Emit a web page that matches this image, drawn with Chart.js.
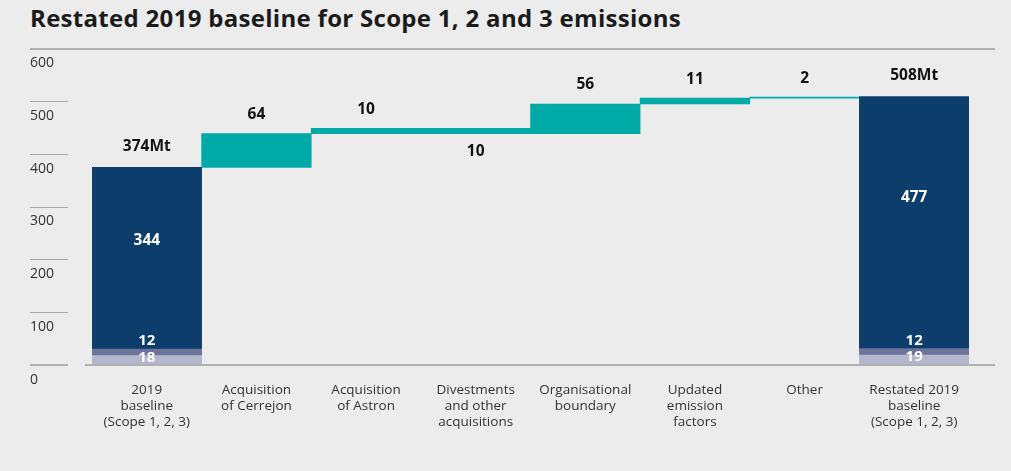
<!DOCTYPE html>
<html>
<head>
<meta charset="utf-8">
<script src="https://cdn.jsdelivr.net/npm/chart.js@4.4.1/dist/chart.umd.min.js"></script>
<style>
  html,body{margin:0;padding:0;background:#ececec;}
  #wrap{position:relative;width:1011px;height:471px;overflow:hidden;background:#ececec;}
  #title{position:absolute;left:30px;top:1px;font-family:"Open Sans",sans-serif;font-weight:700;font-size:24px;color:#1b1b1b;letter-spacing:0.3px;white-space:nowrap;}
  canvas{position:absolute;left:0;top:0;}
</style>
</head>
<body>
<div id="wrap">
  <div id="title">Restated 2019 baseline for Scope 1, 2 and 3 emissions</div>
  <canvas id="c" width="1011" height="471"></canvas>
</div>
<script>
// ---- data ----
const categories = [
  ["2019", "baseline", "(Scope 1, 2, 3)"],
  ["Acquisition", "of Cerrejon"],
  ["Acquisition", "of Astron"],
  ["Divestments", "and other", "acquisitions"],
  ["Organisational", "boundary"],
  ["Updated", "emission", "factors"],
  ["Other"],
  ["Restated 2019", "baseline", "(Scope 1, 2, 3)"]
];
const baselineParts = [18, 12, 344];   // light, medium, dark
const restatedParts = [19, 12, 477];
const changes = [64, 10, -10, 56, 11, 2];
const baselineTotal = 374;
const restatedTotal = 508;
const yTicks = [0, 100, 200, 300, 400, 500, 600];

// ---- build datasets ----
const n = categories.length;
function partRange(parts, k) {
  let lo = 0; for (let i = 0; i < k; i++) lo += parts[i];
  return [lo, lo + parts[k]];
}
const light = new Array(n).fill(null), medium = new Array(n).fill(null), dark = new Array(n).fill(null);
light[0] = partRange(baselineParts, 0); medium[0] = partRange(baselineParts, 1); dark[0] = partRange(baselineParts, 2);
light[n-1] = partRange(restatedParts, 0); medium[n-1] = partRange(restatedParts, 1); dark[n-1] = partRange(restatedParts, 2);
const teal = new Array(n).fill(null);
let cum = baselineTotal;
changes.forEach((c, i) => { teal[i+1] = [Math.min(cum, cum + c), Math.max(cum, cum + c)]; cum += c; });

const C_LIGHT = '#b3b6cc', C_MED = '#6c7499', C_DARK = '#0c3d6b', C_TEAL = '#00aba7';
const FONT = '"Open Sans", sans-serif';

const common = { grouped: false, barPercentage: 1.0, categoryPercentage: 1.0, borderWidth: 0, borderSkipped: false };

const decor = {
  id: 'decor',
  beforeDatasetsDraw(chart) {
    const ctx = chart.ctx, y = chart.scales.y;
    ctx.save();
    ctx.strokeStyle = '#a9a9a9';
    ctx.lineWidth = 1;
    yTicks.forEach(v => {
      if (v === 0 || v === 600) return;
      const py = Math.round(y.getPixelForValue(v)) + 0.5;
      ctx.beginPath(); ctx.moveTo(30, py); ctx.lineTo(68, py); ctx.stroke();
    });
    // top line
    ctx.strokeStyle = '#b0b0b0'; ctx.lineWidth = 2;
    let py = Math.round(y.getPixelForValue(600)) + 1;
    ctx.beginPath(); ctx.moveTo(30, py); ctx.lineTo(995, py); ctx.stroke();
    ctx.restore();
  },
  afterDatasetsDraw(chart) {
    const ctx = chart.ctx, y = chart.scales.y;
    ctx.save();
    // zero axis
    ctx.strokeStyle = '#b0b0b0'; ctx.lineWidth = 2;
    let py = Math.round(y.getPixelForValue(0));
    ctx.beginPath(); ctx.moveTo(30, py); ctx.lineTo(68, py); ctx.stroke();
    ctx.beginPath(); ctx.moveTo(85, py); ctx.lineTo(995, py); ctx.stroke();

    ctx.textAlign = 'center'; ctx.textBaseline = 'middle';
    const darkMeta = chart.getDatasetMeta(2), medMeta = chart.getDatasetMeta(1), lightMeta = chart.getDatasetMeta(0), tealMeta = chart.getDatasetMeta(3);
    // totals
    ctx.fillStyle = '#111'; ctx.font = '700 15.5px ' + FONT;
    [[0, baselineTotal], [n-1, restatedTotal]].forEach(([i, t]) => {
      const el = darkMeta.data[i];
      ctx.fillText(t + 'Mt', el.x, el.y - 21);
    });
    // changes
    changes.forEach((c, k) => {
      const el = tealMeta.data[k+1];
      const top = Math.min(el.y, el.base), bot = Math.max(el.y, el.base);
      if (c < 0) ctx.fillText(String(Math.abs(c)), el.x, bot + 18);
      else ctx.fillText(String(c), el.x, top - 19);
    });
    // inside labels
    ctx.fillStyle = '#ffffff';
    [[0, baselineParts], [n-1, restatedParts]].forEach(([i, parts]) => {
      const d = darkMeta.data[i];
      const top = Math.min(d.y, d.base), bot = Math.max(d.y, d.base);
      ctx.font = '700 15.5px ' + FONT;
      ctx.fillText(String(parts[2]), d.x, top + (bot - top) * 0.4);
      const m = medMeta.data[i];
      ctx.font = '700 15px ' + FONT;
      ctx.fillText(String(parts[1]), m.x, Math.min(m.y, m.base) - 8);
      const l = lightMeta.data[i];
      ctx.fillText(String(parts[0]), l.x, (l.y + l.base) / 2 - 3);
    });
    ctx.restore();
  }
};

new Chart(document.getElementById('c'), {
  type: 'bar',
  data: {
    labels: categories,
    datasets: [
      Object.assign({ data: light, backgroundColor: C_LIGHT }, common),
      Object.assign({ data: medium, backgroundColor: C_MED }, common),
      Object.assign({ data: dark, backgroundColor: C_DARK }, common),
      Object.assign({ data: teal, backgroundColor: C_TEAL }, common)
    ]
  },
  options: {
    responsive: false,
    animation: false,
    devicePixelRatio: 1,
    layout: { padding: { left: 30, right: 42, top: 48, bottom: 0 } },
    plugins: { legend: { display: false }, tooltip: { enabled: false }, title: { display: false } },
    scales: {
      x: {
        grid: { display: false, drawTicks: false },
        border: { display: false },
        ticks: { color: '#333', font: { family: FONT, size: 13.5 }, padding: 17, maxRotation: 0, autoSkip: false },
        afterFit(s) { s.height = 106; }
      },
      y: {
        min: 0, max: 600,
        afterBuildTicks(s) { s.ticks = yTicks.map(v => ({ value: v })); },
        grid: { display: false, drawTicks: false },
        border: { display: false },
        ticks: { color: '#333', font: { family: FONT, size: 14 }, padding: 0, crossAlign: 'far', labelOffset: 15 },
        afterFit(s) { s.width = 62; }
      }
    }
  },
  plugins: [decor]
});
</script>
</body>
</html>
